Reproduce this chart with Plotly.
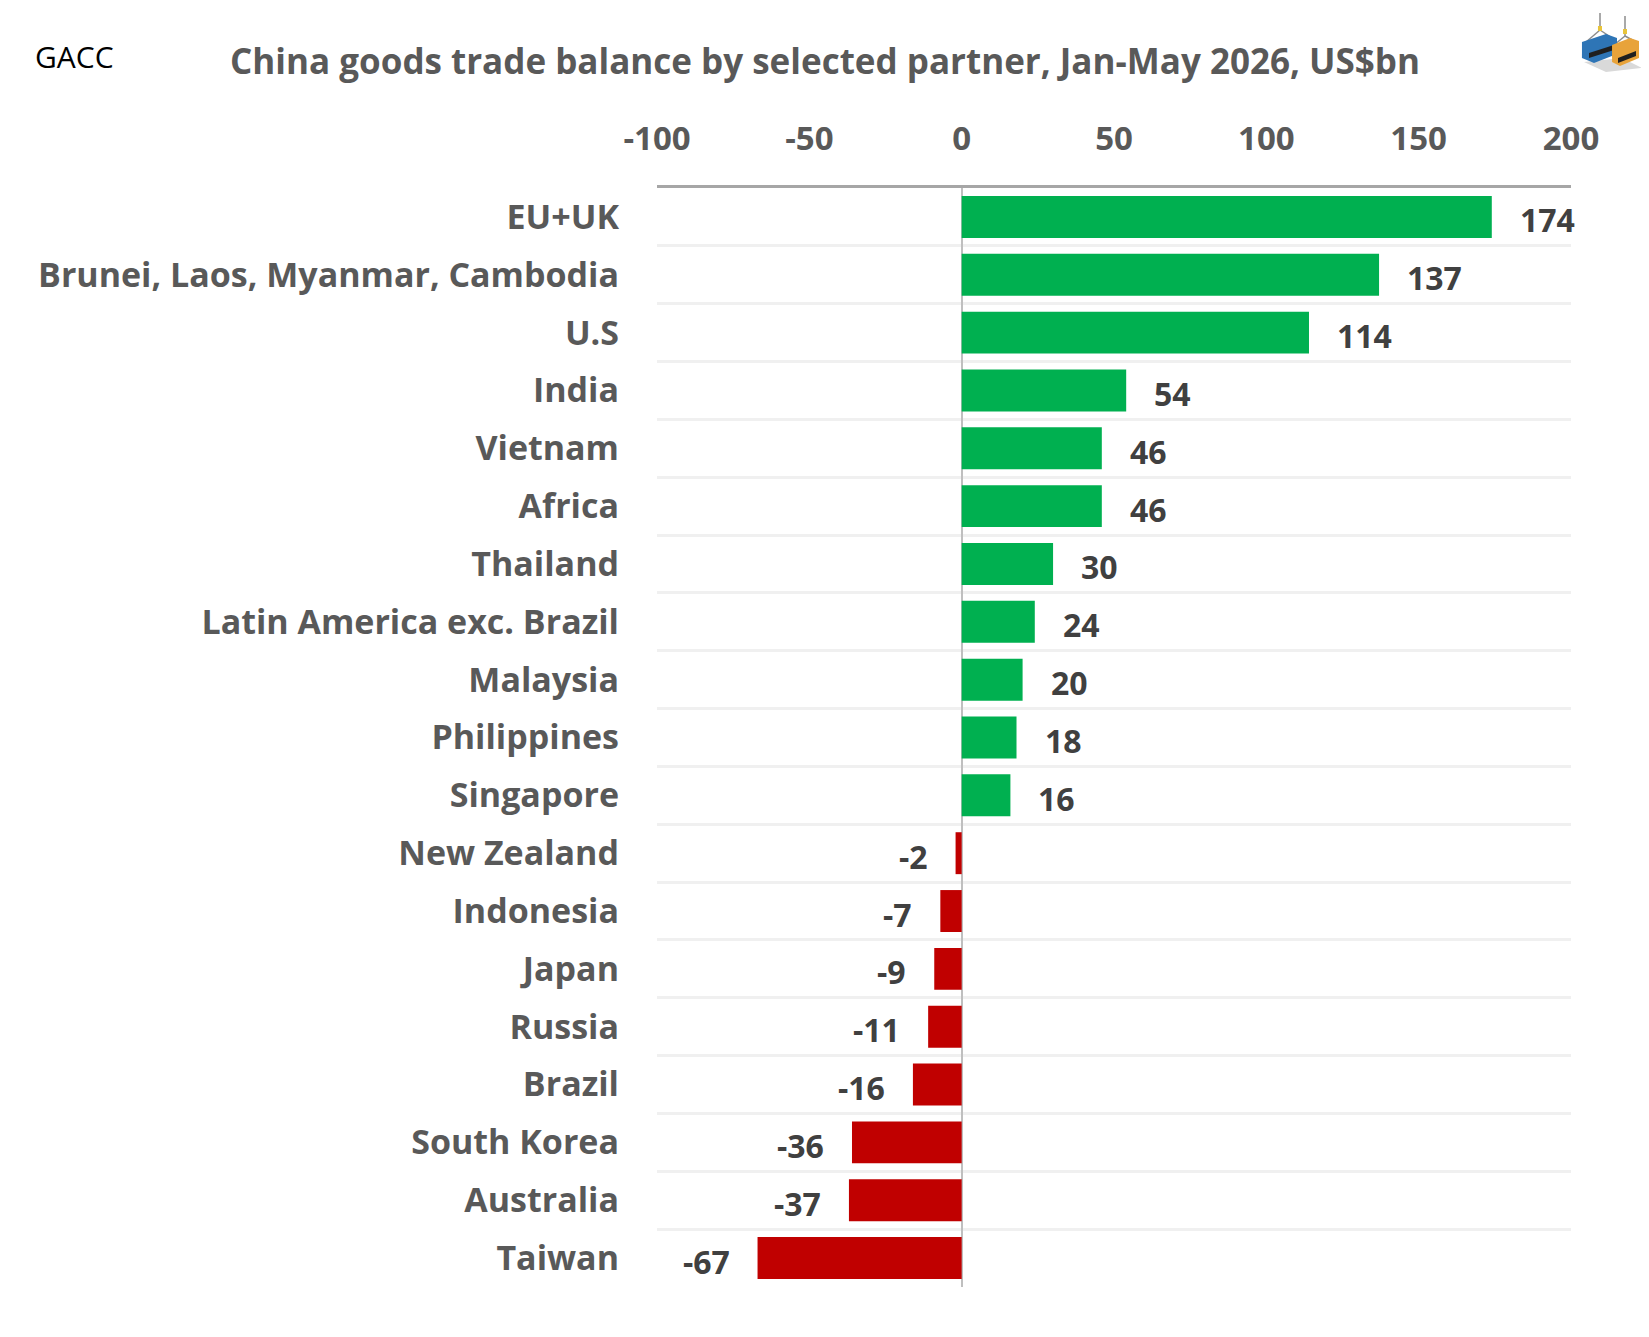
import plotly.graph_objects as go

# China goods trade balance by partner, Jan-May 2026, US$bn (source: GACC)
partners = ["EU+UK", "Brunei, Laos, Myanmar, Cambodia", "U.S", "India", "Vietnam",
            "Africa", "Thailand", "Latin America exc. Brazil", "Malaysia", "Philippines",
            "Singapore", "New Zealand", "Indonesia", "Japan", "Russia", "Brazil",
            "South Korea", "Australia", "Taiwan"]
balance = [174, 137, 114, 54, 46, 46, 30, 24, 20, 18, 16,
           -2, -7, -9, -11, -16, -36, -37, -67]
x_ticks = [-100, -50, 0, 50, 100, 150, 200]

GREEN = "#00b050"
RED = "#c00000"
FONT = "Open Sans"

W, H = 1649, 1337
L, R, T, B = 649, 86, 180, 58
OFF = 8  # page margin of the html body


def paper(x, y):
    # pixel position on the page -> paper coords of the plot area
    x, y = x - OFF, y - OFF
    return (x - L) / (W - L - R), (H - B - y) / (H - T - B)


def poly(points):
    pts = [paper(x, y) for x, y in points]
    return "M " + " L ".join(f"{a:.4f},{b:.4f}" for a, b in pts) + " Z"


fig = go.Figure()
fig.add_trace(go.Bar(
    x=balance, y=partners, orientation="h",
    marker=dict(color=[GREEN if v >= 0 else RED for v in balance], line_width=0),
    hovertemplate="%{y}: %{x}<extra></extra>",
))

annotations = []
for p, v in zip(partners, balance):
    annotations.append(dict(
        x=v, y=p, text=f"<b>{v}</b>", showarrow=False,
        xanchor="left" if v >= 0 else "right",
        xshift=26 if v >= 0 else -26, yshift=-3,
        font=dict(family=FONT, size=32, color="#404040"),
    ))

gx, gy = paper(33, 56)
annotations.append(dict(
    xref="paper", yref="paper", x=gx, y=gy,
    xanchor="left", yanchor="middle", showarrow=False, text="GACC",
    font=dict(family=FONT, size=30, color="#000000"),
))

# small container logo, top right
def logo_part(points, color):
    return dict(type="path", xref="paper", yref="paper", path=poly(points),
                fillcolor=color, line_width=0, layer="above")


def cable(x0, y0, x1, y1):
    a0, b0 = paper(x0, y0)
    a1, b1 = paper(x1, y1)
    return dict(type="line", xref="paper", yref="paper", x0=a0, y0=b0, x1=a1, y1=b1,
                line=dict(color="#8c8c8c", width=1.5))


shapes = [
    logo_part([(1584, 62), (1606, 72), (1642, 68), (1622, 58)], "#d9d9d9"),
    cable(1600, 13, 1600, 30), cable(1625, 16, 1625, 36),
    cable(1600, 30, 1586, 42), cable(1600, 30, 1612, 38),
    cable(1625, 36, 1614, 45), cable(1625, 36, 1636, 42),
    logo_part([(1582, 42), (1606, 34), (1617, 38), (1617, 54), (1594, 63), (1582, 58)], "#2e75b6"),
    logo_part([(1589, 53), (1614, 45), (1614, 50), (1589, 58)], "#1f1f1f"),
    logo_part([(1612, 45), (1630, 38), (1639, 41), (1639, 58), (1620, 66), (1612, 62)], "#e8a33a"),
    logo_part([(1618, 58), (1636, 51), (1636, 56), (1618, 63)], "#1f1f1f"),
    logo_part([(1598, 26), (1602, 26), (1602, 31), (1598, 31)], "#e8c43a"),
    logo_part([(1623, 29), (1627, 29), (1627, 34), (1623, 34)], "#e8c43a"),
]

fig.update_layout(
    width=W, height=H,
    margin=dict(l=L, r=R, t=T, b=B),
    plot_bgcolor="white", paper_bgcolor="white",
    showlegend=False,
    bargap=0.275,
    title=dict(
        text="<b>China goods trade balance by selected partner, Jan-May 2026, US$bn</b>",
        x=(825 - OFF) / W, xanchor="center", y=1 - (62 - OFF) / H, yanchor="middle",
        font=dict(family=FONT, size=35, color="#595959"),
    ),
    xaxis=dict(
        side="top", range=[-100, 200], tickvals=x_ticks,
        ticktext=[f"<b>{v}</b>" for v in x_ticks],
        tickfont=dict(family=FONT, size=33, color="#595959"),
        ticklabelstandoff=22,
        showgrid=False, showline=True, linecolor="#a6a6a6", linewidth=3,
        zeroline=True, zerolinecolor="#bfbfbf", zerolinewidth=2,
        ticks="", fixedrange=True,
    ),
    yaxis=dict(
        type="category", autorange="reversed",
        tickson="boundaries", ticks="",
        tickvals=partners, ticktext=[f"<b>{p}</b>" for p in partners],
        tickfont=dict(family=FONT, size=34, color="#595959"),
        ticklabelstandoff=37,
        showgrid=True, gridcolor="#f0f0f0", gridwidth=3,
        showline=False, zeroline=False,
    ),
    annotations=annotations,
    shapes=shapes,
)

fig.write_html("out.html")
